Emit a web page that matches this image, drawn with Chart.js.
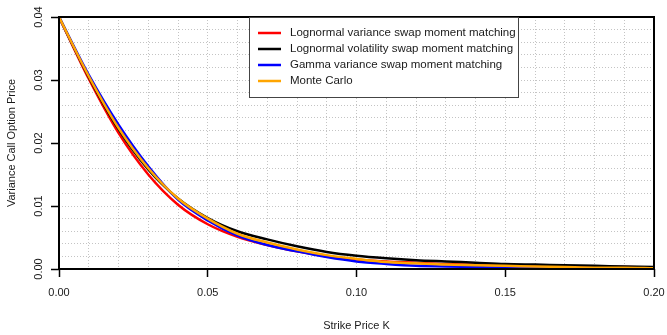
<!DOCTYPE html>
<html>
<head>
<meta charset="utf-8">
<script src="https://cdn.jsdelivr.net/npm/chart.js@4.4.1/dist/chart.umd.min.js"></script>
<style>
  html, body { margin: 0; padding: 0; background: #fff; }
  #wrap { width: 667px; height: 335px; }
</style>
</head>
<body>
<div id="wrap"><canvas id="chart" width="667" height="335"></canvas></div>
<script>
// ============================================================
// DATA
// ============================================================
const strikes = [0.00, 0.01, 0.02, 0.03, 0.04, 0.05, 0.06, 0.07, 0.08, 0.09, 0.10,
                 0.11, 0.12, 0.13, 0.14, 0.15, 0.16, 0.17, 0.18, 0.19, 0.20];

const lnVarSwap   = [0.0400, 0.0302, 0.0216, 0.0150, 0.0102, 0.0071, 0.0051, 0.0038, 0.0028, 0.0020, 0.0015,
                     0.0012, 0.0010, 0.0008, 0.0007, 0.0006, 0.0005, 0.0004, 0.0003, 0.0003, 0.0002];
const lnVolSwap   = [0.0400, 0.0305, 0.0222, 0.0158, 0.0112, 0.0081, 0.0060, 0.0047, 0.0036, 0.0027, 0.0021,
                     0.0017, 0.0014, 0.0012, 0.0010, 0.0008, 0.0007, 0.0006, 0.0005, 0.0004, 0.0003];
const gammaVarSwap = [0.0400, 0.0308, 0.0229, 0.0163, 0.0110, 0.0077, 0.0053, 0.0038, 0.0028, 0.0019, 0.0012,
                     0.0008, 0.0005, 0.0004, 0.0003, 0.0002, 0.0001, 0.0001, 0.0000, 0.0000, 0.0000];
const monteCarlo  = [0.0400, 0.0306, 0.0224, 0.0160, 0.0112, 0.0080, 0.0056, 0.0042, 0.0031, 0.0022, 0.0016,
                     0.0011, 0.0009, 0.0007, 0.0006, 0.0005, 0.0004, 0.0003, 0.0002, 0.0002, 0.0001];

const seriesNames  = ['Lognormal variance swap moment matching', 'Lognormal volatility swap moment matching',
                      'Gamma variance swap moment matching', 'Monte Carlo'];
const seriesColors = ['#ff0000', '#000000', '#0000ff', '#ffa500'];

const xTickLabels = ['0.00', '0.05', '0.10', '0.15', '0.20'];
const yTickLabels = ['0.00', '0.01', '0.02', '0.03', '0.04'];

const xTitle = 'Strike Price K';
const yTitle = 'Variance Call Option Price';

// ============================================================
// HELPERS
// ============================================================
const FONT = 'Liberation Sans, Arial, sans-serif';
const TEXT = '#1a1a1a';

function majorLabel(labels, v) {
  const hit = labels.find(l => Math.abs(parseFloat(l) - v) < 1e-9);
  return hit || '';
}

function toPoints(ys) {
  return strikes.map((x, i) => ({ x: x, y: ys[i] }));
}

// box around the plot area
const framePlugin = {
  id: 'frame',
  afterDatasetsDraw(chart) {
    const { ctx, chartArea: a } = chart;
    ctx.save();
    ctx.strokeStyle = '#000';
    ctx.lineWidth = 2;
    ctx.strokeRect(a.left, a.top, a.right - a.left, a.bottom - a.top);
    ctx.restore();
  }
};

// legend box drawn inside the plot
const legendPlugin = {
  id: 'boxLegend',
  afterDraw(chart) {
    const ctx = chart.ctx;
    const box = { x: 249, y: 17, w: 269, h: 80 };
    ctx.save();
    ctx.fillStyle = '#fff';
    ctx.fillRect(box.x, box.y, box.w, box.h);
    ctx.strokeStyle = '#444';
    ctx.lineWidth = 1;
    ctx.strokeRect(box.x + 0.5, box.y + 0.5, box.w, box.h);
    ctx.font = '11.5px ' + FONT;
    ctx.textBaseline = 'middle';
    ctx.fillStyle = TEXT;
    chart.data.datasets.forEach((ds, i) => {
      const y = box.y + 16 + i * 16;
      ctx.strokeStyle = ds.borderColor;
      ctx.lineWidth = 2.5;
      ctx.beginPath();
      ctx.moveTo(box.x + 9, y);
      ctx.lineTo(box.x + 32, y);
      ctx.stroke();
      ctx.fillText(ds.label, box.x + 41, y);
    });
    ctx.restore();
  }
};

// ============================================================
// CHART
// ============================================================
const seriesData = [lnVarSwap, lnVolSwap, gammaVarSwap, monteCarlo];
const drawOrder = [3, 2, 1, 0];   // orange ends up on top

new Chart(document.getElementById('chart'), {
  type: 'line',
  data: {
    datasets: seriesData.map((ys, i) => ({
      label: seriesNames[i],
      data: toPoints(ys),
      borderColor: seriesColors[i],
      backgroundColor: seriesColors[i],
      borderWidth: 2.5,
      pointRadius: 0,
      fill: false,
      cubicInterpolationMode: 'monotone',
      order: drawOrder[i]
    }))
  },
  options: {
    responsive: false,
    animation: false,
    layout: { padding: { top: 17, right: 13, left: 0, bottom: 0 } },
    plugins: { legend: { display: false }, tooltip: { enabled: false } },
    scales: {
      x: {
        type: 'linear', min: 0, max: 0.2,
        afterFit: s => { s.height = 66; s.paddingLeft = 0; s.paddingRight = 0; },
        ticks: {
          stepSize: 0.01, autoSkip: false, maxRotation: 0, padding: 9,
          color: TEXT, font: { family: FONT, size: 11 },
          callback: v => majorLabel(xTickLabels, v)
        },
        grid: {
          color: '#c4c4c4', lineWidth: 1, tickLength: 8, tickBorderDash: [],
          tickColor: c => majorLabel(xTickLabels, c.tick.value) ? '#000' : 'rgba(0,0,0,0)',
          tickWidth: 1.5
        },
        border: { display: false, dash: [1, 2] },
        title: { display: true, text: xTitle, color: TEXT, font: { family: FONT, size: 11 }, padding: { top: 0, bottom: 2 } }
      },
      y: {
        type: 'linear', min: 0, max: 0.04,
        afterFit: s => { s.width = 59; },
        ticks: {
          stepSize: 0.002, autoSkip: false, minRotation: 90, maxRotation: 90,
          crossAlign: 'center', padding: 1,
          color: TEXT, font: { family: FONT, size: 11 },
          callback: v => majorLabel(yTickLabels, v)
        },
        grid: {
          color: '#c4c4c4', lineWidth: 1, tickLength: 8, tickBorderDash: [],
          tickColor: c => majorLabel(yTickLabels, c.tick.value) ? '#000' : 'rgba(0,0,0,0)',
          tickWidth: 1.5
        },
        border: { display: false, dash: [1, 2] },
        title: { display: true, text: yTitle, color: TEXT, font: { family: FONT, size: 11 }, padding: { top: 5, bottom: 0 } }
      }
    }
  },
  plugins: [framePlugin, legendPlugin]
});
</script>
</body>
</html>
